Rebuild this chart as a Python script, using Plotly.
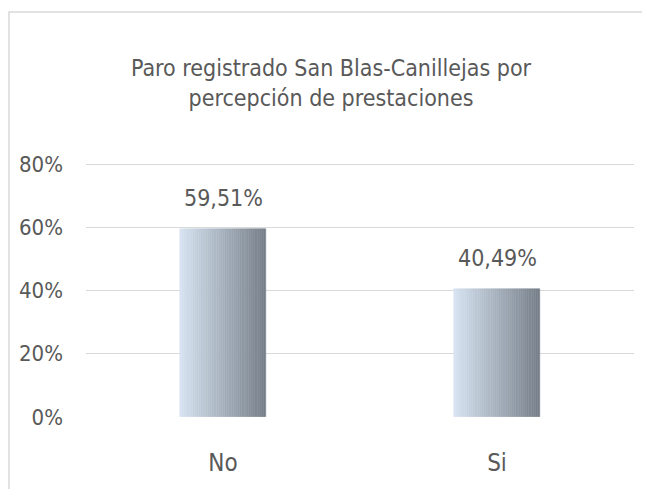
import plotly.graph_objects as go

categories = ["No", "Si"]
values = [0.5951, 0.4049]
y_ticks = [0, 0.2, 0.4, 0.6, 0.8]
y_tick_labels = ["0%", "20%", "40%", "60%", "80%"]
title_lines = ["Paro registrado San Blas-Canillejas por", "percepción de prestaciones"]

FONT = "Liberation Sans Narrow, DejaVu Sans Condensed, Roboto Condensed, Arial Narrow, sans-serif"
TXT = "#595959"
GRID = "#D9D9D9"

OFF = 8  # page body margin
W, H = 650 - 2 * OFF, 497 - 2 * OFF
Y0_PX, Y80_PX = 417 - OFF, 164 - OFF      # figure px of 0% and 80% lines
TOP_PX = Y80_PX - 3                       # plot top a little above 80% line
ML, MT = 86 - OFF, TOP_PX
MR = W - (634 - OFF)
MB = H - Y0_PX
PW = W - ML - MR
PH = H - MT - MB
y_top = 0.8 * (Y0_PX - TOP_PX) / (Y0_PX - Y80_PX)

bar_w = 0.315
n_strips = 40
c_left = (0xD6, 0xE3, 0xF1)
c_right = (0x76, 0x7F, 0x89)

fig = go.Figure()
for i in range(n_strips):
    t = i / (n_strips - 1)
    rgb = tuple(round(a + (b - a) * t) for a, b in zip(c_left, c_right))
    col = "rgb(%d,%d,%d)" % rgb
    sw = bar_w / n_strips
    fig.add_trace(go.Bar(
        x=categories, y=values,
        width=[sw] * len(categories),
        offset=[-bar_w / 2 + i * sw] * len(categories),
        marker=dict(color=col, line=dict(color=col, width=0.5)),
        showlegend=False,
        hovertemplate="%{x}: %{y:.2%}<extra></extra>",
    ))

for c, v in zip(categories, values):
    fig.add_annotation(
        x=c, y=v, xref="x", yref="y",
        text=("%.2f" % (v * 100)).replace(".", ",") + "%",
        showarrow=False, yanchor="bottom", yshift=16,
        font=dict(family=FONT, size=23, color=TXT),
    )

# chart border: only top and left sides are visible in the reference
bx0 = (1 - ML) / PW
bx1 = (W + 40 - ML) / PW
by0 = -(H + 40 - MT - PH) / PH
by1 = (H - MB - (12 - OFF)) / PH
fig.add_shape(
    type="path", xref="paper", yref="paper",
    path=f"M {bx0},{by0} L {bx0},{by1} L {bx1},{by1}",
    line=dict(color=GRID, width=1.5), layer="below",
)

fig.update_layout(
    width=W, height=H,
    margin=dict(l=ML, r=MR, t=MT, b=MB),
    paper_bgcolor="white", plot_bgcolor="white",
    barmode="overlay",
    bargap=0,
    title=dict(
        text="<br>".join(title_lines),
        x=(331 - OFF) / W, xanchor="center", xref="container",
        y=1 - 68 / H, yanchor="middle", yref="container",
        font=dict(family=FONT, size=23, color=TXT),
    ),
    font=dict(family=FONT, color=TXT),
)
fig.update_xaxes(
    showgrid=False, zeroline=False, showline=False, ticks="",
    tickfont=dict(family=FONT, size=24, color=TXT),
    ticklabelstandoff=29,
)
fig.update_yaxes(
    range=[0, y_top], tickvals=y_ticks, ticktext=y_tick_labels,
    showgrid=True, gridcolor=GRID, gridwidth=1.3,
    zeroline=False, showline=False, ticks="",
    tickfont=dict(family=FONT, size=22, color=TXT),
    ticklabelstandoff=22,
)

fig.write_html("out.html")
